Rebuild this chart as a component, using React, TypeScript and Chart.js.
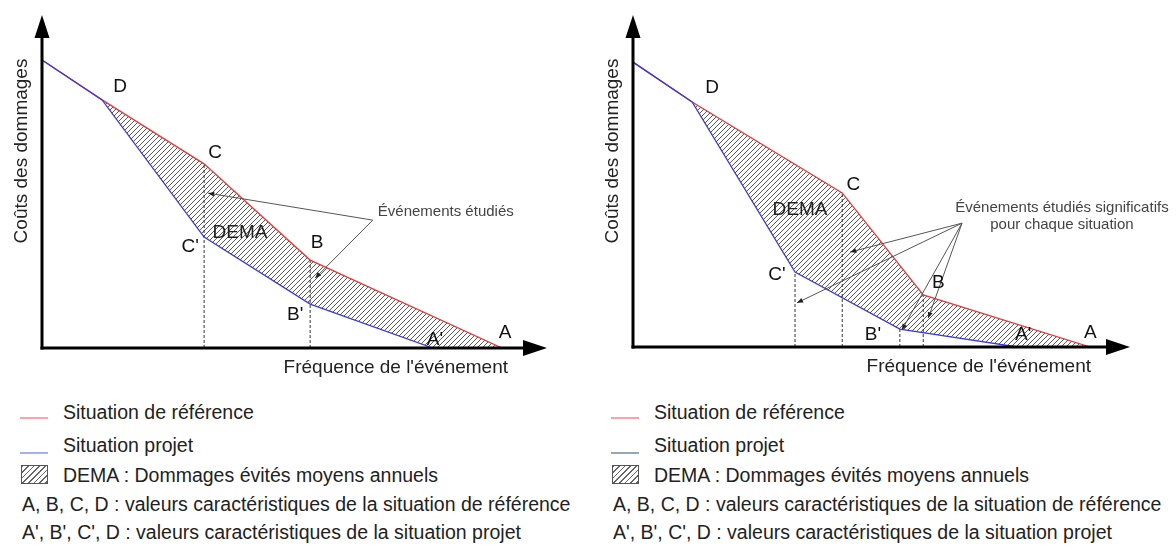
import React, { useEffect, useRef } from 'react';
import { Chart, registerables } from 'chart.js';

Chart.register(...registerables);

// ---------------- DATA (both axes in arbitrary units 0..100) ----------------
// Left panel
const L_REF_X = [0, 11.9, 32.1, 53.1, 91.1];
const L_REF_Y = [86.5, 74.5, 55.3, 26.4, 0];
const L_PROJ_X = [0, 11.9, 32.1, 53.1, 77.4];
const L_PROJ_Y = [86.5, 74.5, 33.3, 13.2, 0];
const L_REF_LABELS = ['', 'D', 'C', 'B', 'A'];
const L_PROJ_LABELS = ['', '', "C'", "B'", "A'"];
const L_REF_STUDIED = [2, 3];
const L_PROJ_STUDIED: number[] = [];
const L_NOTE = ['Événements étudiés'];
const L_NOTE_POS = [66.5, 40.8];
const L_NOTE_SRC = [65.5, 38.4];
const L_NOTE_TGT_X = [32.9, 54.1];
const L_NOTE_TGT_Y = [46.5, 21.0];
const L_DEMA_POS = [39.2, 34.5];

// Right panel
const R_REF_X = [0, 11.9, 42.1, 58.4, 92.0];
const R_REF_Y = [85.8, 73.8, 46.4, 15.7, 0];
const R_PROJ_X = [0, 11.9, 32.6, 53.7, 77.3];
const R_PROJ_Y = [85.8, 73.8, 22.6, 5.4, 0];
const R_REF_LABELS = ['', 'D', 'C', 'B', 'A'];
const R_PROJ_LABELS = ['', '', "C'", "B'", "A'"];
const R_REF_STUDIED = [2, 3];
const R_PROJ_STUDIED = [2, 3];
const R_NOTE = ['Événements étudiés significatifs', 'pour chaque situation'];
const R_NOTE_POS = [86.3, 41.9];
const R_NOTE_SRC = [66.2, 37.3];
const R_NOTE_TGT_X = [43.7, 33.0, 54.1, 59.4];
const R_NOTE_TGT_Y = [28.6, 13.3, 5.1, 8.7];
const R_DEMA_POS = [33.6, 41.3];

const AXIS_X_TITLE = "Fréquence de l'événement";
const AXIS_Y_TITLE = 'Coûts des dommages';
const DEMA_TEXT = 'DEMA';
const LEGEND_TEXTS = [
  'Situation de référence',
  'Situation projet',
  'DEMA : Dommages évités moyens annuels',
  'A, B, C, D : valeurs caractéristiques de la situation de référence',
  "A', B', C', D : valeurs caractéristiques de la situation projet",
];

// ---------------- STYLE ----------------
const FONT = "'Liberation Sans', Arial, sans-serif";
const RED = '#e53a3a';
const BLUE = '#3a3ad8';

type Panel = {
  refX: number[]; refY: number[]; projX: number[]; projY: number[];
  refLabels: string[]; projLabels: string[];
  refStudied: number[]; projStudied: number[];
  note: string[]; notePos: number[]; noteAlign: CanvasTextAlign;
  noteSrc: number[]; noteTgtX: number[]; noteTgtY: number[];
  demaPos: number[];
};

type PanelStyle = {
  padding: { left: number; right: number; top: number; bottom: number };
  refOff: (number[] | null)[];
  projOff: (number[] | null)[];
};

const LEFT: Panel = {
  refX: L_REF_X, refY: L_REF_Y, projX: L_PROJ_X, projY: L_PROJ_Y,
  refLabels: L_REF_LABELS, projLabels: L_PROJ_LABELS,
  refStudied: L_REF_STUDIED, projStudied: L_PROJ_STUDIED,
  note: L_NOTE, notePos: L_NOTE_POS, noteAlign: 'left',
  noteSrc: L_NOTE_SRC, noteTgtX: L_NOTE_TGT_X, noteTgtY: L_NOTE_TGT_Y,
  demaPos: L_DEMA_POS,
};
const RIGHT: Panel = {
  refX: R_REF_X, refY: R_REF_Y, projX: R_PROJ_X, projY: R_PROJ_Y,
  refLabels: R_REF_LABELS, projLabels: R_PROJ_LABELS,
  refStudied: R_REF_STUDIED, projStudied: R_PROJ_STUDIED,
  note: R_NOTE, notePos: R_NOTE_POS, noteAlign: 'center',
  noteSrc: R_NOTE_SRC, noteTgtX: R_NOTE_TGT_X, noteTgtY: R_NOTE_TGT_Y,
  demaPos: R_DEMA_POS,
};

const LEFT_STYLE: PanelStyle = {
  padding: { left: 42, right: 41, top: 15, bottom: 52 },
  refOff: [null, [18, -13], [11, -11], [7, -17], [3, -15]],
  projOff: [null, null, [-14, 10], [-15, 11], [2, -8]],
};
const RIGHT_STYLE: PanelStyle = {
  padding: { left: 45, right: 46, top: 15, bottom: 53 },
  refOff: [null, [20, -14], [11, -8], [15, -12], [0, -14]],
  projOff: [null, null, [-18, 3], [-27, 6], [6, -12]],
};

function makeHatch(): CanvasPattern | string {
  const c = document.createElement('canvas');
  const s = 5;
  c.width = s; c.height = s;
  const g = c.getContext('2d');
  if (!g) return '#999';
  g.strokeStyle = '#5a5a5a';
  g.lineWidth = 1;
  g.beginPath();
  g.moveTo(0, s); g.lineTo(s, 0);
  g.moveTo(-s / 2, s / 2); g.lineTo(s / 2, -s / 2);
  g.moveTo(s / 2, s * 1.5); g.lineTo(s * 1.5, s / 2);
  g.stroke();
  return g.createPattern(c, 'repeat') || '#999';
}

function overlayPlugin(p: Panel, st: PanelStyle) {
  return {
    id: 'overlay',
    afterDatasetsDraw(chart: any) {
      const ctx: CanvasRenderingContext2D = chart.ctx;
      const xs = chart.scales.x, ys = chart.scales.y;
      const px = (v: number) => xs.getPixelForValue(v);
      const py = (v: number) => ys.getPixelForValue(v);
      const { left, right, top, bottom } = chart.chartArea;
      ctx.save();

      // annotation arrows
      ctx.strokeStyle = '#555';
      ctx.fillStyle = '#222';
      ctx.lineWidth = 1;
      const sx = px(p.noteSrc[0]), sy = py(p.noteSrc[1]);
      p.noteTgtX.forEach((tx, i) => {
        const ex = px(tx), ey = py(p.noteTgtY[i]);
        ctx.beginPath(); ctx.moveTo(sx, sy); ctx.lineTo(ex, ey); ctx.stroke();
        const a = Math.atan2(ey - sy, ex - sx);
        const L = 6, W = 2.5;
        ctx.beginPath();
        ctx.moveTo(ex, ey);
        ctx.lineTo(ex - L * Math.cos(a) + W * Math.sin(a), ey - L * Math.sin(a) - W * Math.cos(a));
        ctx.lineTo(ex - L * Math.cos(a) - W * Math.sin(a), ey - L * Math.sin(a) + W * Math.cos(a));
        ctx.closePath(); ctx.fill();
      });

      // note text
      ctx.fillStyle = '#444';
      ctx.font = `15px ${FONT}`;
      ctx.textAlign = p.noteAlign;
      ctx.textBaseline = 'middle';
      p.note.forEach((t, i) => ctx.fillText(t, px(p.notePos[0]), py(p.notePos[1]) + i * 17));

      // axes
      ctx.strokeStyle = '#000';
      ctx.fillStyle = '#000';
      ctx.lineWidth = 3;
      ctx.beginPath(); ctx.moveTo(left, bottom + 1.5); ctx.lineTo(left, top + 18); ctx.stroke();
      ctx.beginPath(); ctx.moveTo(left - 1.5, bottom); ctx.lineTo(right - 18, bottom); ctx.stroke();
      ctx.beginPath(); ctx.moveTo(left, top); ctx.lineTo(left - 7.5, top + 23); ctx.lineTo(left + 7.5, top + 23); ctx.closePath(); ctx.fill();
      ctx.beginPath(); ctx.moveTo(right, bottom); ctx.lineTo(right - 24, bottom - 8); ctx.lineTo(right - 24, bottom + 8); ctx.closePath(); ctx.fill();

      // axis titles
      ctx.fillStyle = '#222';
      ctx.font = `19px ${FONT}`;
      ctx.textBaseline = 'middle';
      ctx.textAlign = 'right';
      ctx.fillText(AXIS_X_TITLE, right - 39, bottom + 20);
      ctx.save();
      ctx.translate(left - 20, top + 136);
      ctx.rotate(-Math.PI / 2);
      ctx.textAlign = 'center';
      ctx.fillText(AXIS_Y_TITLE, 0, 0);
      ctx.restore();

      // point labels
      ctx.fillStyle = '#111';
      ctx.textAlign = 'center';
      ctx.font = `19px ${FONT}`;
      p.refLabels.forEach((t, i) => {
        const o = st.refOff[i];
        if (!t || !o) return;
        ctx.fillText(t, px(p.refX[i]) + o[0], py(p.refY[i]) + o[1]);
      });
      p.projLabels.forEach((t, i) => {
        const o = st.projOff[i];
        if (!t || !o) return;
        ctx.fillText(t, px(p.projX[i]) + o[0], py(p.projY[i]) + o[1]);
      });
      ctx.fillStyle = '#222';
      ctx.fillText(DEMA_TEXT, px(p.demaPos[0]), py(p.demaPos[1]));
      ctx.restore();
    },
  };
}

function PanelChart({ panel, style, x }: { panel: Panel; style: PanelStyle; x: number }) {
  const ref = useRef<HTMLCanvasElement | null>(null);
  useEffect(() => {
    if (!ref.current) return;
    const refPts = panel.refX.map((v, i) => ({ x: v, y: panel.refY[i] }));
    const projPts = panel.projX.map((v, i) => ({ x: v, y: panel.projY[i] }));
    const shape = [...refPts, ...projPts.slice().reverse()];
    const dashSets = [
      ...panel.refStudied.map((i) => [{ x: panel.refX[i], y: 0 }, { x: panel.refX[i], y: panel.refY[i] }]),
      ...panel.projStudied.map((i) => [{ x: panel.projX[i], y: 0 }, { x: panel.projX[i], y: panel.projY[i] }]),
    ].map((d) => ({
      data: d, showLine: true, borderColor: '#333', borderWidth: 1, borderDash: [3, 2],
      pointRadius: 0, fill: false, order: 2,
    }));
    const chart = new Chart(ref.current, {
      type: 'scatter',
      data: {
        datasets: [
          {
            label: 'DEMA', data: shape, showLine: true, fill: 'shape',
            backgroundColor: makeHatch() as any, borderColor: 'rgba(0,0,0,0)', borderWidth: 1,
            pointRadius: 0, order: 3,
          } as any,
          ...dashSets,
          {
            label: 'Situation de référence', data: refPts, showLine: true, borderColor: RED,
            borderWidth: 1.3, pointRadius: 0, fill: false, order: 1,
          },
          {
            label: 'Situation projet', data: projPts, showLine: true, borderColor: BLUE,
            borderWidth: 1.3, pointRadius: 0, fill: false, order: 0,
          },
        ],
      },
      options: {
        animation: false,
        responsive: false,
        events: [],
        layout: { padding: style.padding },
        scales: {
          x: { type: 'linear', min: 0, max: 100, display: false },
          y: { type: 'linear', min: 0, max: 100, display: false },
        },
        plugins: { legend: { display: false }, tooltip: { enabled: false } },
      },
      plugins: [overlayPlugin(panel, style)],
    } as any);
    return () => chart.destroy();
  }, [panel, style]);
  return (
    <canvas
      ref={ref}
      width={588}
      height={400}
      style={{ position: 'absolute', left: x, top: 0, width: 588, height: 400 }}
    />
  );
}

function Legend({ x, projColor }: { x: number; projColor: string }) {
  const rowsY = [412, 445, 475, 504, 532];
  const text: React.CSSProperties = {
    position: 'absolute', font: `19.5px ${FONT}`, color: '#222', lineHeight: '22px', whiteSpace: 'nowrap',
  };
  return (
    <div style={{ position: 'absolute', left: x, top: 0 }}>
      <div style={{ position: 'absolute', left: 20, top: 417, width: 28, height: 2, background: '#f3a7a7' }} />
      <div style={{ ...text, left: 63, top: rowsY[0] - 11 }}>{LEGEND_TEXTS[0]}</div>
      <div style={{ position: 'absolute', left: 20, top: 452, width: 28, height: 2, background: projColor }} />
      <div style={{ ...text, left: 63, top: rowsY[1] - 11 }}>{LEGEND_TEXTS[1]}</div>
      <div
        style={{
          position: 'absolute', left: 21, top: 465, width: 25, height: 17, border: '1px solid #555',
          background: 'repeating-linear-gradient(135deg, #666 0px, #666 1px, #fff 1px, #fff 4px)',
        }}
      />
      <div style={{ ...text, left: 63, top: rowsY[2] - 11 }}>{LEGEND_TEXTS[2]}</div>
      <div style={{ ...text, left: 22, top: rowsY[3] - 11 }}>{LEGEND_TEXTS[3]}</div>
      <div style={{ ...text, left: 22, top: rowsY[4] - 11 }}>{LEGEND_TEXTS[4]}</div>
    </div>
  );
}

export default function App() {
  return (
    <div style={{ position: 'fixed', left: 0, top: 0, width: 1176, height: 554, background: '#fff', overflow: 'hidden' }}>
      <PanelChart panel={LEFT} style={LEFT_STYLE} x={0} />
      <PanelChart panel={RIGHT} style={RIGHT_STYLE} x={588} />
      <Legend x={0} projColor="#a9adf2" />
      <Legend x={591} projColor="#9aa6b8" />
    </div>
  );
}
